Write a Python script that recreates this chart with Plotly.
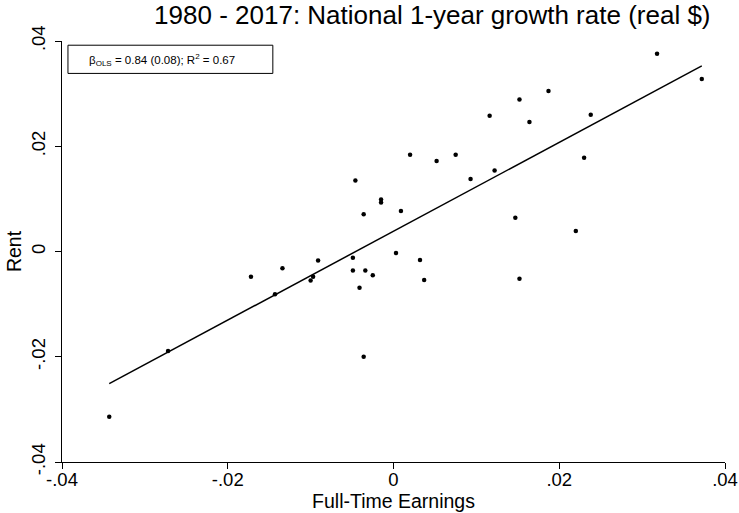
import numpy as np
import plotly.graph_objects as go

earnings = [-0.0343, -0.0272, -0.0172, -0.0143, -0.0134, -0.0100, -0.0097, -0.0091,
            -0.0049, -0.0049, -0.0046, -0.0041, -0.0036, -0.0036, -0.0034, -0.0025,
            -0.0015, -0.0015, 0.0003, 0.0009, 0.0020, 0.0032, 0.0037, 0.0052,
            0.0075, 0.0093, 0.0116, 0.0122, 0.0147, 0.0152, 0.0152, 0.0164,
            0.0187, 0.0220, 0.0230, 0.0238, 0.0318, 0.0372]
rent = [-0.0314, -0.0189, -0.0048, -0.0081, -0.0032, -0.0055, -0.0048, -0.0017,
        -0.0012, -0.0036, 0.0135, -0.0069, 0.0071, -0.0200, -0.0036, -0.0045,
        0.0099, 0.0093, -0.0003, 0.0077, 0.0184, -0.0016, -0.0054, 0.0172,
        0.0184, 0.0138, 0.0258, 0.0154, 0.0064, 0.0289, -0.0052, 0.0246,
        0.0305, 0.0039, 0.0178, 0.0260, 0.0376, 0.0328]

tick_vals = [-0.04, -0.02, 0, 0.02, 0.04]
tick_text = ["-.04", "-.02", "0", ".02", ".04"]

title_text = "1980 - 2017: National 1-year growth rate (real $)"
stat_text = "\u03b2<sub>OLS</sub> = 0.84 (0.08); R<sup>2</sup> = 0.67"

x = np.array(earnings)
y = np.array(rent)
slope, intercept = np.polyfit(x, y, 1)
xl = np.array([x.min(), x.max()])
yl = intercept + slope * xl

FONT = "Arial, Liberation Sans, sans-serif"

fig = go.Figure()
fig.add_trace(go.Scatter(x=x, y=y, mode="markers",
                         marker=dict(color="black", size=4.5), hoverinfo="skip"))
fig.add_trace(go.Scatter(x=xl, y=yl, mode="lines",
                         line=dict(color="black", width=1.5), hoverinfo="skip"))

axis_common = dict(range=[-0.04, 0.04], tickvals=tick_vals, ticktext=tick_text,
                   showline=True, linecolor="black", linewidth=1, ticks="outside",
                   ticklen=6, tickcolor="black", tickwidth=1, showgrid=False,
                   zeroline=False, automargin=False,
                   tickfont=dict(family=FONT, size=18.5, color="black"))

fig.update_layout(
    width=739, height=513,
    margin=dict(l=62, r=14, t=41, b=51, autoexpand=False),
    paper_bgcolor="white", plot_bgcolor="white",
    showlegend=False,
    font=dict(family=FONT, color="black"),
    title=dict(text=title_text, font=dict(family=FONT, size=26, color="black"),
               x=0.585, xanchor="center", y=0.971, yanchor="middle", xref="container"),
    xaxis=dict(**axis_common, ticklabelstandoff=-5,
               title=dict(text="Full-Time Earnings", font=dict(family=FONT, size=19.5), standoff=0)),
    yaxis=dict(**axis_common, tickangle=-90, ticklabelstandoff=3,
               title=dict(text="Rent", font=dict(family=FONT, size=19.5), standoff=0)),
)

fig.add_shape(type="rect", xref="paper", yref="paper", x0=0.009, x1=0.318, y0=0.923, y1=0.99,
              line=dict(color="black", width=1), fillcolor="white", layer="below")
fig.add_annotation(text=stat_text, xref="paper", yref="paper", x=0.037, y=0.956,
                   xanchor="left", yanchor="middle", showarrow=False,
                   font=dict(family=FONT, size=11.5, color="black"))

fig.write_html("out.html")
